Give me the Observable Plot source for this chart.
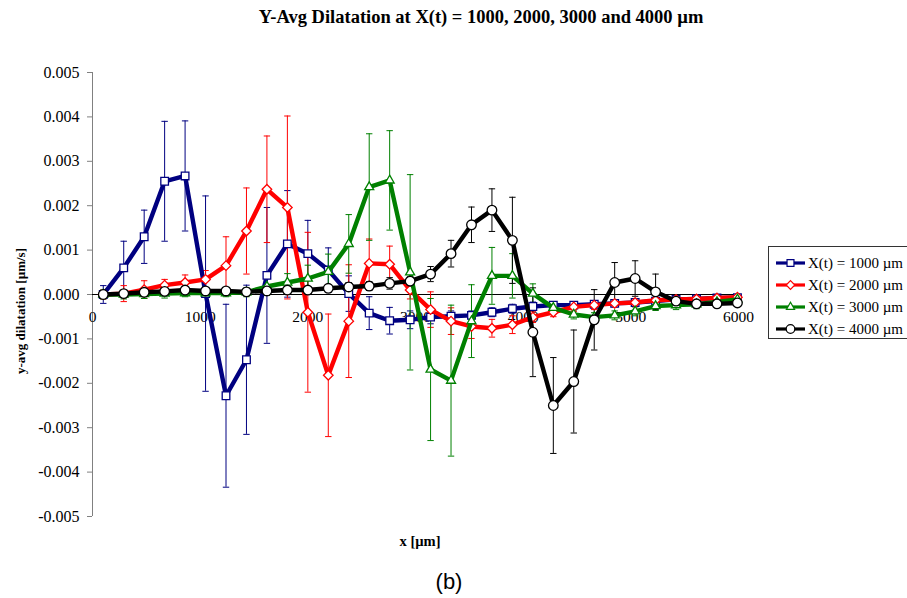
<!DOCTYPE html>
<html>
<head>
<meta charset="utf-8">
<script src="https://cdn.jsdelivr.net/npm/d3@7"></script>
<script src="https://cdn.jsdelivr.net/npm/@observablehq/plot@0.6"></script>
<style>
  html, body { margin: 0; padding: 0; background: #fff; }
  #wrap { position: relative; width: 907px; height: 598px; overflow: hidden; }
  #wrap svg { position: absolute; left: 0; top: 0; }
  .lbl { position: absolute; white-space: nowrap; color: #000; }
</style>
</head>
<body>
<div id="wrap"></div>
<script>
// ---- data ----
const xPositions = [100, 290, 480, 670, 860, 1050, 1240, 1430, 1620, 1810, 2000, 2190, 2380, 2570, 2760, 2950,
  3140, 3330, 3520, 3710, 3900, 4090, 4280, 4470, 4660, 4850, 5040, 5230, 5420, 5610, 5800, 5990];

const seriesNames = ["X(t) = 1000 µm", "X(t) = 2000 µm", "X(t) = 3000 µm", "X(t) = 4000 µm"];
const seriesColors = ["#000080", "#ff0000", "#008000", "#000000"];
const seriesSymbols = ["square", "diamond2", "triangle2", "circle"];

const y1000 = [0, 0.0006, 0.0013, 0.00255, 0.00267, 0.00002, -0.00228, -0.00147, 0.00043, 0.00114, 0.00092, 0.00055,
  0.00002, -0.00042, -0.00059, -0.00057, -0.00051, -0.00049, -0.00047, -0.0004, -0.00032, -0.00027, -0.00024, -0.00024,
  -0.00022, -0.0002, -0.00018, -0.00015, -0.00011, -0.0001, -0.00008, -0.00007];
const e1000 = [0.0002, 0.0006, 0.0006, 0.00135, 0.00124, 0.0022, 0.00206, 0.00168, 0.00153, 0.0012, 0.00075, 0.0005,
  0.0004, 0.00037, 0.0003, 0.0002, 0.00015, 0.00012, 0.0001, 0.0001, 0.0001, 0.0001, 0.00008, 0.00008,
  0.00008, 0.00006, 0.00006, 0.00005, 0.00005, 0.00005, 0.00005, 0.00005];

const y2000 = [0, 0.00002, 0.00011, 0.00021, 0.00027, 0.00034, 0.00065, 0.00143, 0.00237, 0.00196, -0.0004, -0.00182,
  -0.0006, 0.0007, 0.00068, 0.0001, -0.00034, -0.0006, -0.00072, -0.00076, -0.00068, -0.00051, -0.0004, -0.00028,
  -0.00024, -0.0002, -0.00018, -0.00013, -0.00011, -0.0001, -0.00008, -0.00006];
const e2000 = [0.0001, 0.00018, 0.0002, 0.00013, 0.00017, 0.0002, 0.00065, 0.00097, 0.0012, 0.00206, 0.0018, 0.00138,
  0.00127, 0.00055, 0.00041, 0.0002, 0.0004, 0.0003, 0.00027, 0.0002, 0.0002, 0.00012, 0.0001, 0.0001,
  0.0001, 0.00008, 0.00008, 0.00006, 0.00006, 0.00005, 0.00005, 0.00005];

const y3000 = [0, 0, 0.00001, 0.00002, 0.00003, 0.00003, 0.00003, 0.00005, 0.00018, 0.00027, 0.00036, 0.00051,
  0.00114, 0.00242, 0.00257, 0.0005, -0.00169, -0.00194, -0.0006, 0.00042, 0.00042, 0.00002, -0.0003, -0.00045,
  -0.00051, -0.00047, -0.00038, -0.00026, -0.00024, -0.00022, -0.00017, -0.00011];
const e3000 = [0.0001, 0.0001, 0.0001, 0.0001, 0.00008, 0.00008, 0.00008, 0.0001, 0.0002, 0.0002, 0.0003, 0.0004,
  0.00066, 0.0012, 0.00112, 0.0022, 0.0016, 0.0017, 0.00082, 0.00064, 0.0005, 0.00022, 0.0001, 0.0001,
  0.0001, 0.0001, 0.0001, 0.0001, 0.0001, 0.0001, 0.00008, 0.00008];

const y4000 = [0, 0.00002, 0.00005, 0.00007, 0.0001, 0.00008, 0.00008, 0.00006, 0.00008, 0.0001, 0.0001, 0.00014,
  0.00017, 0.00019, 0.00025, 0.0003, 0.00046, 0.00092, 0.00157, 0.0019, 0.00122, -0.00085, -0.0025, -0.00196,
  -0.00057, 0.00027, 0.00036, 0.00006, -0.00015, -0.00021, -0.00021, -0.00019];
const e4000 = [0.00005, 0.00005, 0.00005, 0.00005, 0.00005, 0.00005, 0.00005, 0.00005, 0.00005, 0.00005, 0.00005, 0.00008,
  0.0001, 0.0001, 0.00013, 0.0001, 0.00017, 0.0003, 0.0004, 0.00048, 0.00097, 0.001, 0.00108, 0.00116,
  0.00068, 0.00045, 0.0004, 0.0004, 0.00006, 0.00005, 0.00005, 0.00005];

const xTicks = [0, 1000, 2000, 3000, 4000, 5000, 6000];
const yTicks = [-0.005, -0.004, -0.003, -0.002, -0.001, 0, 0.001, 0.002, 0.003, 0.004, 0.005];

const titleText = "Y-Avg Dilatation at X(t) = 1000, 2000, 3000 and 4000 µm";
const xLabel = "x [µm]";
const yLabel = "y-avg dilatation [µm/s]";
const panelLabel = "(b)";

// ---- build ----
const ySeries = [y1000, y2000, y3000, y4000];
const eSeries = [e1000, e2000, e3000, e4000];
const rowsBySeries = ySeries.map((ys, s) => ys.map((y, i) => ({x: xPositions[i], y, e: eSeries[s][i], s})));

const capSymbol = {
  draw(context, size) {
    const r = Math.sqrt(size / Math.PI);
    context.moveTo(-r, 0);
    context.lineTo(r, 0);
  }
};

const serif = "'Liberation Serif', 'Times New Roman', serif";
const marks = [];
marks.push(Plot.ruleX([0], {stroke: "#808080", strokeWidth: 1}));
marks.push(Plot.axisY(yTicks, {tickFormat: d => d.toFixed(3), tickSize: 5, tickPadding: 8, stroke: "#808080",
  fill: "black", fontSize: 16, fontFamily: serif, label: null}));
marks.push(Plot.ruleY([0], {stroke: "black", strokeWidth: 1}));
marks.push(Plot.text(xTicks, {x: d => d, y: 0, dy: 23, text: d => String(d), fontSize: 15.5, fontFamily: serif, fill: "black"}));

rowsBySeries.forEach((rows, s) => {
  const c = seriesColors[s];
  marks.push(Plot.ruleX(rows, {x: "x", y1: d => d.y - d.e, y2: d => d.y + d.e, stroke: c, strokeWidth: 1}));
  marks.push(Plot.dot(rows, {x: "x", y: d => d.y - d.e, symbol: capSymbol, r: 3.2, stroke: c, strokeWidth: 1, fill: "none"}));
  marks.push(Plot.dot(rows, {x: "x", y: d => d.y + d.e, symbol: capSymbol, r: 3.2, stroke: c, strokeWidth: 1, fill: "none"}));
});
rowsBySeries.forEach((rows, s) => {
  const c = seriesColors[s];
  marks.push(Plot.line(rows, {x: "x", y: "y", stroke: c, strokeWidth: 4.4, strokeLinejoin: "round"}));
  marks.push(Plot.dot(rows, {x: "x", y: "y", symbol: seriesSymbols[s], r: s === 3 ? 4.8 : 4.3, fill: "white", stroke: c, strokeWidth: 1.3}));
});

const chart = Plot.plot({
  width: 907,
  height: 598,
  marginLeft: 92,
  marginRight: 169,
  marginTop: 72,
  marginBottom: 82,
  style: {background: "transparent", fontFamily: serif},
  x: {domain: [0, 6000], axis: null},
  y: {domain: [-0.005, 0.005], axis: null},
  marks
});

const wrap = document.getElementById("wrap");
wrap.appendChild(chart);

function addLabel(text, css) {
  const d = document.createElement("div");
  d.className = "lbl";
  d.textContent = text;
  Object.assign(d.style, css);
  wrap.appendChild(d);
  return d;
}
addLabel(titleText, {left: "481px", top: "17px", transform: "translate(-50%, -50%)", fontFamily: serif, fontWeight: "bold", fontSize: "18.5px"});
addLabel(xLabel, {left: "420px", top: "541px", transform: "translate(-50%, -50%)", fontFamily: serif, fontWeight: "bold", fontSize: "14.5px"});
addLabel(yLabel, {left: "21px", top: "311px", transform: "translate(-50%, -50%) rotate(-90deg)", fontFamily: serif, fontWeight: "bold", fontSize: "13px"});
addLabel(panelLabel, {left: "449px", top: "582px", transform: "translate(-50%, -50%)", fontFamily: "'Liberation Sans', Arial, sans-serif", fontSize: "22px"});

// legend
const leg = d3.select(wrap).append("svg")
  .attr("width", 907).attr("height", 598)
  .style("pointer-events", "none");
leg.append("rect").attr("x", 768.5).attr("y", 246.5).attr("width", 140).attr("height", 92)
  .attr("fill", "white").attr("stroke", "#333").attr("stroke-width", 1);
const symMap = {square: d3.symbolSquare, diamond2: d3.symbolDiamond2, triangle2: d3.symbolTriangle2, circle: d3.symbolCircle};
seriesNames.forEach((name, i) => {
  const yy = 263 + i * 22;
  const g = leg.append("g");
  g.append("line").attr("x1", 776).attr("x2", 805).attr("y1", yy).attr("y2", yy)
    .attr("stroke", seriesColors[i]).attr("stroke-width", 3.2);
  const r = i === 3 ? 4.3 : 3.9;
  g.append("path").attr("d", d3.symbol(symMap[seriesSymbols[i]], r * r * Math.PI)())
    .attr("transform", `translate(790.5,${yy})`)
    .attr("fill", "white").attr("stroke", seriesColors[i]).attr("stroke-width", 1.2);
  g.append("text").attr("x", 808).attr("y", yy).attr("dy", "0.35em")
    .attr("font-family", serif).attr("font-size", 15).attr("fill", "black").text(name);
});
</script>
</body>
</html>
